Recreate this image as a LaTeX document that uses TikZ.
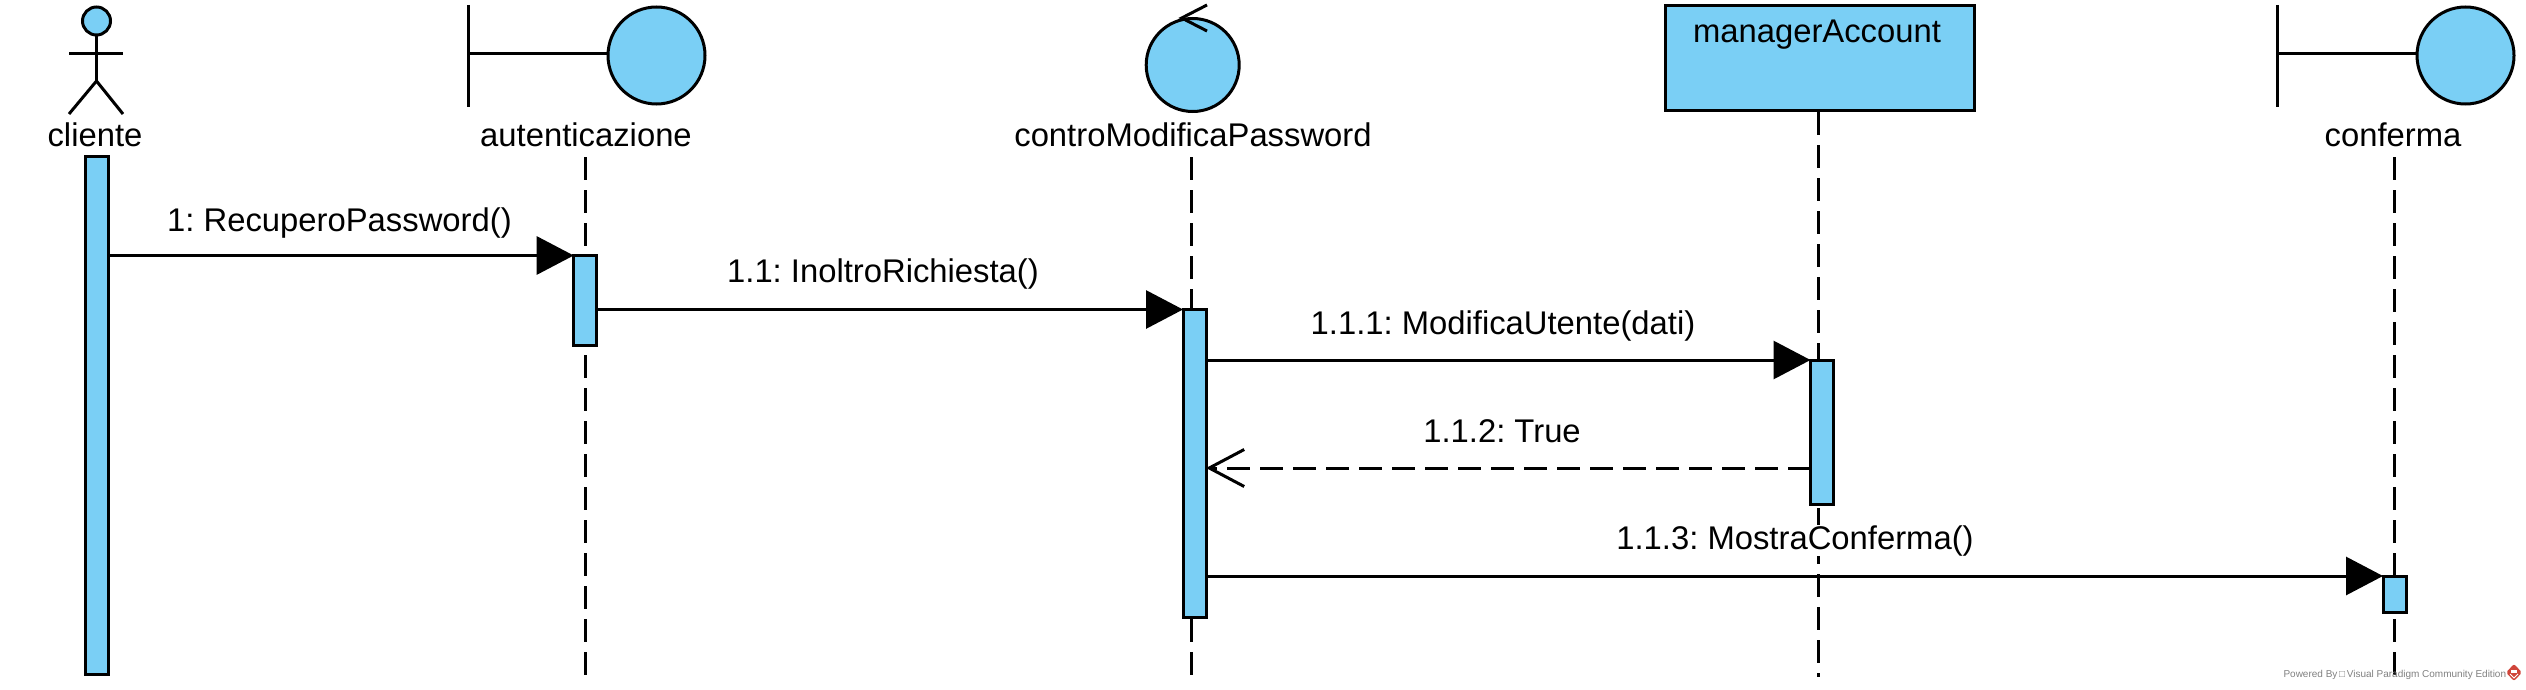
\documentclass[tikz,border=0pt]{standalone}
\usepackage{fontspec}
\setmainfont{Liberation Sans}
\usetikzlibrary{arrows.meta,positioning,calc}
\definecolor{vpblue}{HTML}{7ACFF5}
\definecolor{vpred}{HTML}{D0453A}
\begin{document}
\frenchspacing
\begin{tikzpicture}[x=.5pt,y=-.5pt,line width=1.5pt,
	lbl/.style={inner sep=0pt,anchor=base,font=\fontsize{16.4}{20}\selectfont},
	msglbl/.style={lbl,fill=white},
	bar/.style={draw,fill=vpblue,rectangle,inner sep=0pt,outer sep=0pt,minimum width=11.5pt},
	ball/.style={draw,fill=vpblue,circle,inner sep=0pt},
	life/.style={dash pattern=on 11.5pt off 5pt},
	msg/.style={-{Triangle[length=18.5pt,width=19pt]}},
	reply/.style={dash pattern=on 11.5pt off 5pt,-{Straight Barb[length=17.5pt,width=18.5pt]}}]
	\useasboundingbox (0,0) rectangle (2526,690);
	% lifeline ends
	\coordinate (auT) at (585.7,157);
	\coordinate (auB) at (585.7,675);
	\coordinate (coT) at (1191.5,157);
	\coordinate (coB) at (1191.5,675);
	\coordinate (maT) at (1818.5,112);
	\coordinate (maB) at (1818.5,677);
	\coordinate (cfT) at (2394.7,157);
	\coordinate (cfB) at (2394.7,677);

	\foreach \f/\t in {auT/auB,coT/coB,maT/maB,cfT/cfB}{
		\draw[life] (\f) -- (\t);
	}

	% cliente
	\node[ball,minimum size=14pt] (clHead) at (96.5,21) {};
	\coordinate (clHip) at (96.5,81);
	\coordinate (clArmL) at (69,54);
	\coordinate (clArmR) at (123,54);
	\coordinate (clLegL) at (69,114);
	\coordinate (clLegR) at (123,114);
	\draw (clHead) -- (clHip);
	\draw (clArmL) -- (clArmR);
	\draw (clLegL) -- (clHip) -- (clLegR);
	\node[lbl] (clLbl) at (95,147) {cliente};

	% autenticazione
	\coordinate (auTop) at (468,5);
	\coordinate (auBot) at (468,107);
	\coordinate (auMid) at (468,54);
	\node[ball,minimum size=48.5pt] (auBall) at (656.5,55.5) {};
	\draw (auTop) -- (auBot);
	\draw (auMid) -- (auMid -| auBall.west);
	\node[lbl] (auLbl) at (586,147) {autenticazione};

	% controModificaPassword
	\node[ball,minimum size=46.5pt] (coBall) at (1192.7,65) {};
	\coordinate (coTip) at (1181.7,18);
	\coordinate (coUp) at (1207,5);
	\coordinate (coDn) at (1207,31);
	\draw (coUp) -- (coTip) -- (coDn);
	\node[lbl] (coLbl) at (1193,147) {controModificaPassword};

	% managerAccount
	\node[draw,fill=vpblue,rectangle,inner sep=0pt,minimum width=154.5pt,minimum height=52.5pt] (maBox) at (1820,58.5) {};
	\node[lbl] (maLbl) at (1817,42.5) {managerAccount};

	% conferma
	\coordinate (cfTop) at (2277.5,5);
	\coordinate (cfBot) at (2277.5,107);
	\coordinate (cfMid) at (2277.5,54);
	\node[ball,minimum size=48.5pt] (cfBall) at (2465.5,55.5) {};
	\draw (cfTop) -- (cfBot);
	\draw (cfMid) -- (cfMid -| cfBall.west);
	\node[lbl] (cfLbl) at (2393,147) {conferma};

	% bars
	\node[bar,minimum height=259pt] (barCl) at (96.5,415) {};
	\node[bar,minimum height=45pt] (barAu) at (585.2,300.5) {};
	\node[bar,minimum height=154.2pt] (barCo) at (1194.5,463.7) {};
	\node[bar,minimum height=72pt] (barMa) at (1822,432) {};
	\node[bar,minimum height=18pt] (barCf) at (2394.5,594) {};

	% messages
	\foreach \f/\t in {barCl/barAu,barAu/barCo,barCo/barMa,barCo/barCf}{
		\draw[msg] (\f.east |- \t.north) -- (\t.north west);
	}
	\coordinate (retS) at (barMa.west |- 0,468);
	\coordinate (retT) at (barCo.east |- 0,468);
	\draw[reply] (retS) -- (retT);

	\node[msglbl] (m1) at (339.5,231) {1: RecuperoPassword()};
	\node[msglbl] (m2) at (883,282.5) {1.1: InoltroRichiesta()};
	\node[msglbl] (m3) at (1503,334) {1.1.1: ModificaUtente(dati)};
	\node[msglbl] (m4) at (1502,442) {1.1.2: True};
	\node[msglbl] (m5) at (1795,549) {1.1.3: MostraConferma()};

	% watermark
	\node[inner sep=0pt,anchor=base west,text=gray,font=\fontsize{5}{6}\selectfont] (vpMark) at (2282,677) {Powered By\,□\,Visual Paradigm Community Edition};
	\fill[vpred,rounded corners=1pt] (2514,664) -- (2522,672.5) -- (2514,681) -- (2506,672.5) -- cycle;
	\fill[white] (2511,669.5) rectangle (2517,672.5);
	\draw[white,line width=.5pt] (2510,674) -- (2514,678) -- (2518,674);
\end{tikzpicture}
\end{document}
